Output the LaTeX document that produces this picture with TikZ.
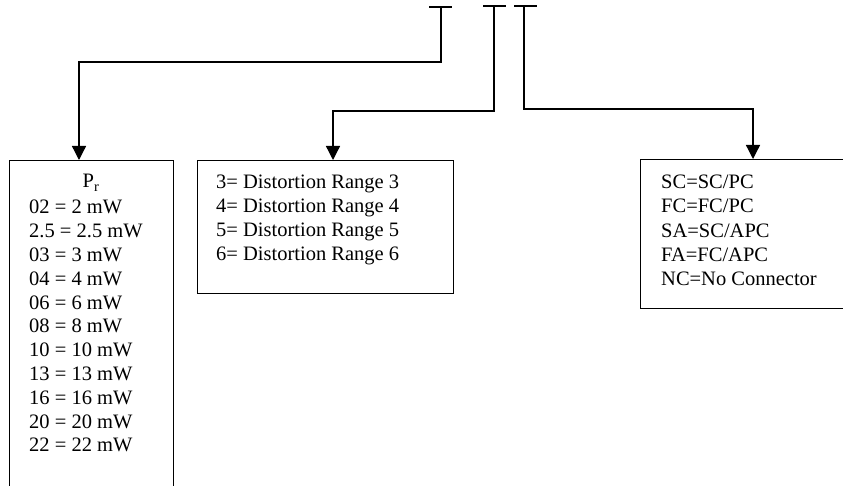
\documentclass[tikz,border=0pt]{standalone}
\usepackage{fontspec}
\setmainfont{Liberation Serif}
\usepackage{tikz}
\usetikzlibrary{arrows.meta,positioning}
\tikzstyle{link} = [line width=1.3pt,-{Triangle[width=14pt,length=14pt]}]
\tikzstyle{bar} = [line width=1.3pt]
\tikzstyle{codebox} = [draw,line width=1.3pt,anchor=north west,inner sep=0pt]
\tikzstyle{codetext} = [anchor=north west,align=left,inner sep=0pt,font=\fontsize{20.5}{23.8}\selectfont]

\begin{document}
\begin{tikzpicture}[x=1pt,y=-1pt]
    \useasboundingbox (0,0) rectangle (843,486);

    % code placeholders
    \coordinate (tA) at (441,7);
    \coordinate (tB) at (494,6);
    \coordinate (tC) at (524,6);
    \draw[bar] (429,7) -- (452,7);
    \draw[bar] (483,6) -- (506,6);
    \draw[bar] (514,6) -- (537,6);

    % boxes
    \node[codebox,minimum width=164pt,minimum height=340pt] (power) at (9,160) {};
    \node[codebox,minimum width=256pt,minimum height=133pt] (range) at (197,160) {};
    \node[codebox,minimum width=230pt,minimum height=149pt] (conn) at (640,159) {};

    \node[anchor=base,inner sep=0pt,font=\fontsize{20.5}{23.8}\selectfont] (prlabel) at (91,188) {P\textsubscript{r}};
    \node[codetext] (prlist) at (29,200) {02 = 2 mW\\2.5 = 2.5 mW\\03 = 3 mW\\04 = 4 mW\\06 = 6 mW\\08 = 8 mW\\10 = 10 mW\\13 = 13 mW\\16 = 16 mW\\20 = 20 mW\\22 = 22 mW};
    \node[codetext] (rangelist) at (216,175) {3= Distortion Range 3\\4= Distortion Range 4\\5= Distortion Range 5\\6= Distortion Range 6};
    \node[codetext,font=\fontsize{20.5}{24.2}\selectfont] (connlist) at (661,175) {SC=SC/PC\\FC=FC/PC\\SA=SC/APC\\FA=FC/APC\\NC=No Connector};

    % connectors
    \draw[link] (tA) -- ++(0,55) -| ([xshift=70pt]power.north west);
    \draw[link] (tB) -- ++(0,105) -| ([xshift=136pt]range.north west);
    \draw[link] (tC) -- ++(0,103) -| ([xshift=113pt]conn.north west);
\end{tikzpicture}
\end{document}
